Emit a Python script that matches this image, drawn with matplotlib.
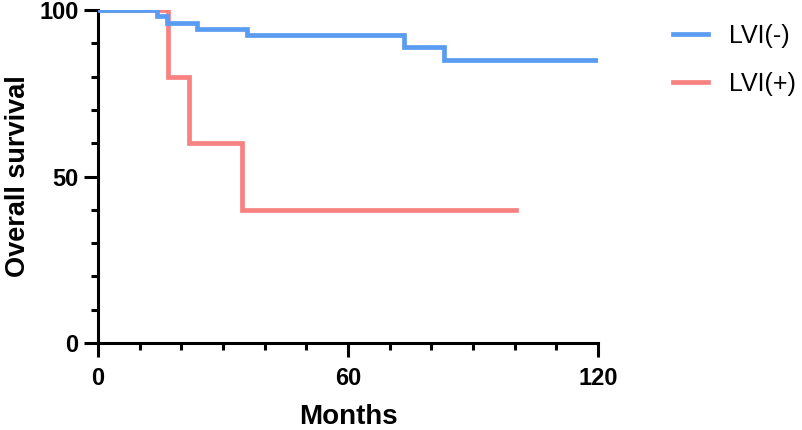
import matplotlib.pyplot as plt
from matplotlib.ticker import MultipleLocator, FixedLocator

# -------- data --------
neg_time = [0, 14.2, 16.6, 23.7, 35.7, 73.4, 83.0, 120]
neg_surv = [100, 98.1, 96.2, 94.4, 92.5, 88.8, 85.0, 85.0]

pos_time = [0, 16.8, 21.8, 34.6, 100.3]
pos_surv = [100, 80, 60, 40, 40]

x_ticks = [0, 60, 120]
y_ticks = [0, 50, 100]

BLUE = "#5A9CF2"
RED = "#F88282"

plt.rcParams["font.family"] = ["Liberation Sans", "DejaVu Sans"]

fig = plt.figure(figsize=(8.02, 4.30), dpi=100)
ax = fig.add_axes([98 / 802, 1 - 343 / 430, 500 / 802, 333 / 430])

ax.step(pos_time, pos_surv, where="post", color=RED, lw=3.4, label="LVI(+)",
        solid_joinstyle="miter", zorder=2)
ax.step(neg_time, neg_surv, where="post", color=BLUE, lw=3.4, label="LVI(-)",
        solid_joinstyle="miter", zorder=3)

ax.set_xlim(0, 120)
ax.set_ylim(0, 100)
for side in ("top", "right"):
    ax.spines[side].set_visible(False)
for side in ("left", "bottom"):
    ax.spines[side].set_linewidth(2.2)
    ax.spines[side].set_capstyle("projecting")

ax.xaxis.set_major_locator(FixedLocator(x_ticks))
ax.yaxis.set_major_locator(FixedLocator(y_ticks))
ax.xaxis.set_minor_locator(MultipleLocator(10))
ax.yaxis.set_minor_locator(MultipleLocator(10))
ax.tick_params(which="major", length=10, width=2.2, labelsize=17, pad=4)
ax.tick_params(which="minor", length=5, width=2.2)
ax.tick_params(axis="x", which="major", pad=7)
for lab in ax.get_xticklabels() + ax.get_yticklabels():
    lab.set_fontweight("bold")

ax.set_xlabel("Months", fontsize=20, fontweight="bold", labelpad=10)
ax.set_ylabel("Overall survival", fontsize=19.5, fontweight="bold", labelpad=6)

handles, labels = ax.get_legend_handles_labels()
ax.legend(handles[::-1], labels[::-1], loc="upper left",
          bbox_to_anchor=(1.105, 1.025), frameon=False, fontsize=18,
          handlelength=1.4, handletextpad=0.85, labelspacing=0.95)

ax.patch.set_alpha(0)
fig.savefig("out.png", dpi=100)
